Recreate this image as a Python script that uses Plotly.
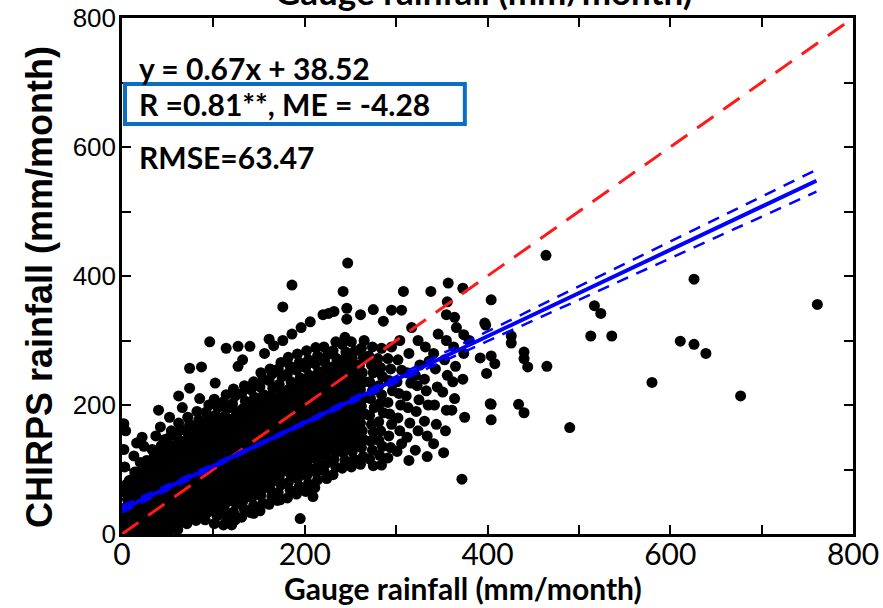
import plotly.graph_objects as go

# ---------------- data ----------------
# (gauge rainfall, CHIRPS rainfall) pairs, mm/month
cloud_pairs = [
    (2,3),(5,15),(1,28),(4,41),(6,54),(2,66),(5,77),(3,104),(2,131),(4,160),(2,171),
    (11,2),(14,14),(12,26),(15,39),(11,51),(13,63),(16,74),(12,86),(14,96),(13,121),(16,141),
    (21,4),(24,16),(22,29),(25,41),(23,53),(21,65),(24,77),(22,89),(25,100),(20,111),(24,136),(22,150),
    (31,2),(34,13),(32,25),(35,37),(33,49),(31,61),(36,73),(32,85),(34,97),(31,109),(35,120),(33,131),(37,152),(40,192),
    (41,5),(44,17),(42,30),(45,42),(43,54),(41,66),(46,78),(42,90),(44,102),(41,114),(45,126),(43,137),(46,146),(42,166),
    (51,3),(54,15),(52,28),(55,40),(53,52),(51,64),(56,76),(52,88),(54,100),(51,112),(55,124),(53,136),(50,148),(54,160),(52,181),
    (61,7),(64,19),(62,31),(65,43),(63,55),(61,67),(66,79),(62,91),(64,103),(61,115),(65,127),(63,139),(60,151),(64,162),(62,172),(66,196),(62,214),
    (71,16),(74,28),(72,40),(75,52),(73,64),(71,76),(76,88),(72,100),(74,112),(71,124),(75,136),(73,148),(70,160),(74,170),(72,181),(74,226),(74,257),
    (81,21),(84,33),(82,45),(85,57),(83,69),(81,81),(86,93),(82,105),(84,117),(81,129),(85,141),(83,153),(80,165),(84,177),(82,190),(85,210),(87,259),
    (91,22),(94,34),(92,46),(95,58),(93,70),(91,82),(96,94),(92,106),(94,118),(91,130),(95,142),(93,154),(90,166),(94,178),(92,189),(95,200),(102,234),(96,298),
    (101,16),(104,28),(102,40),(105,52),(103,64),(101,76),(106,88),(102,100),(104,112),(101,124),(105,136),(103,148),(100,160),(104,172),(102,184),(105,196),(101,209),
    (111,14),(114,26),(112,38),(115,50),(113,62),(111,74),(116,86),(112,98),(114,110),(111,122),(115,134),(113,146),(110,158),(114,170),(112,182),(115,194),(111,205),(114,216),(114,288),
    (120,14),(124,22),(122,34),(125,46),(123,58),(121,70),(126,82),(122,94),(124,106),(121,118),(125,130),(123,142),(120,154),(124,166),(122,178),(125,190),(121,202),(124,214),(122,225),(127,260),(127,291),
    (131,26),(134,38),(132,50),(135,62),(133,74),(131,86),(136,98),(132,110),(134,122),(131,134),(135,146),(133,158),(130,170),(134,182),(132,194),(135,206),(131,218),(134,230),(132,270),
    (144,32),(141,33),(144,44),(142,56),(145,68),(143,80),(141,92),(146,104),(142,116),(144,128),(141,140),(145,152),(143,164),(140,176),(144,188),(142,200),(145,212),(141,224),(144,236),(140,291),
    (151,36),(154,48),(152,60),(155,72),(153,84),(151,96),(156,108),(152,120),(154,132),(151,144),(155,156),(153,168),(150,180),(154,192),(152,204),(155,216),(151,228),(154,240),(152,250),(156,280),
    (161,46),(164,58),(162,70),(165,82),(163,94),(161,106),(166,118),(162,130),(164,142),(161,154),(165,166),(163,178),(160,190),(164,202),(162,214),(165,226),(161,238),(164,248),(162,256),(166,292),(161,302),
    (170,52),(173,53),(171,64),(174,76),(172,88),(175,100),(173,112),(171,124),(176,136),(172,148),(174,160),(171,172),(175,184),(173,196),(170,208),(174,220),(172,232),(175,244),(171,256),(174,266),(176,300),(176,352),
    (181,56),(184,68),(182,80),(185,92),(183,104),(181,116),(186,128),(182,140),(184,152),(181,164),(185,176),(183,188),(180,200),(184,212),(182,224),(185,236),(181,248),(184,260),(182,274),(186,310),(186,386),
    (195,24),(191,62),(194,74),(192,86),(195,98),(193,110),(191,122),(196,134),(192,146),(194,158),(191,170),(195,182),(193,194),(190,206),(194,218),(192,230),(195,242),(191,254),(194,266),(192,279),(196,320),
    (209,58),(201,66),(204,78),(202,90),(205,102),(203,114),(201,126),(206,138),(202,150),(204,162),(201,174),(205,186),(203,198),(200,210),(204,222),(202,234),(205,246),(201,258),(204,270),(202,284),(206,329),
    (211,72),(214,84),(212,96),(215,108),(213,120),(211,132),(216,144),(212,156),(214,168),(211,180),(215,192),(213,204),(210,216),(214,228),(212,240),(215,252),(211,264),(214,276),(212,289),(220,340),
    (224,86),(221,98),(224,110),(222,122),(225,134),(223,146),(221,158),(226,170),(222,182),(224,194),(221,206),(225,218),(223,230),(220,242),(224,254),(222,266),(225,278),(221,290),(226,342),
    (231,92),(234,104),(232,116),(235,128),(233,140),(231,152),(236,164),(232,176),(234,188),(231,200),(235,212),(233,224),(230,236),(234,248),(232,260),(235,272),(231,284),(234,298),(232,345),
    (241,102),(244,114),(242,126),(245,138),(243,150),(241,162),(246,174),(242,186),(244,198),(241,210),(245,222),(243,234),(240,246),(244,258),(242,270),(245,282),(241,294),(244,305),(242,376),(246,350),(246,333),(247,420),
    (251,104),(254,116),(252,128),(255,140),(253,152),(251,164),(256,176),(252,188),(254,200),(251,212),(255,224),(253,236),(250,248),(254,260),(252,272),(255,284),(251,298),
    (261,108),(264,120),(262,134),(265,146),(263,160),(261,172),(266,186),(262,198),(264,210),(261,224),(265,236),(263,250),(260,262),(264,274),(262,288),(265,300),(261,340),
    (275,106),(271,116),(274,130),(272,144),(275,158),(273,170),(271,184),(276,196),(272,210),(274,222),(271,236),(275,250),(273,262),(270,276),(274,290),(275,348),
    (284,107),(282,122),(281,145),(285,136),(283,160),(281,174),(286,188),(282,202),(284,216),(281,230),(285,244),(283,258),(280,272),(284,288),(286,330),
    (291,118),(294,134),(292,152),(295,170),(293,186),(291,204),(296,222),(292,238),(294,256),(291,272),(295,290),(295,347),
    (306,140),(301,128),(304,160),(302,180),(305,200),(303,218),(301,236),(306,254),(302,270),(304,300),(306,347),(308,376),
    (314,114),(312,150),(315,172),(313,196),(311,214),(316,234),(312,250),(314,280),(317,320),
    (321,130),(324,160),(322,190),(325,208),(323,230),(321,246),(326,262),(324,300),
    (334,120),(334,152),(331,175),(335,200),(333,222),(331,240),(336,268),(332,290),(338,376),
    (341,140),(344,170),(342,200),(345,228),(343,256),(341,280),(346,310),
    (352,126),(354,160),(355,192),(351,220),(356,246),(353,270),(355,300),(355,340),(357,389),(356,360),
    (361,192),(364,210),(362,236),(365,260),(363,290),(364,336),(366,320),
    (372,85),(375,181),(373,240),(374,280),(374,309),(373,381),(380,300),
]
# extra points of the densest part of the cloud, around the fitted line
core_pairs = [
    (8,8),(7,23),(8,38),(9,53),(7,68),(8,83),
    (18,6),(17,21),(19,36),(18,51),(17,66),(19,81),(18,96),
    (28,9),(27,24),(29,39),(28,54),(27,69),(29,84),(28,99),(27,114),
    (38,7),(37,22),(39,37),(38,52),(37,67),(39,82),(38,97),(37,112),(38,127),
    (48,11),(47,26),(49,41),(48,56),(47,71),(49,86),(48,101),(47,116),(48,131),
    (58,17),(57,32),(59,47),(58,62),(57,77),(59,92),(58,107),(57,122),(58,137),
    (68,24),(67,39),(69,54),(68,69),(67,84),(69,99),(68,114),(67,129),(68,144),
    (78,31),(77,46),(79,61),(78,76),(77,91),(79,106),(78,121),(77,136),(78,151),
    (88,37),(87,52),(89,67),(88,82),(87,97),(89,112),(88,127),(87,142),(88,157),
    (98,44),(97,59),(99,74),(98,89),(97,104),(99,119),(98,134),(97,149),(98,164),
    (108,51),(107,66),(109,81),(108,96),(107,111),(109,126),(108,141),(107,156),(108,171),
    (118,58),(117,73),(119,88),(118,103),(117,118),(119,133),(118,148),(117,163),(118,178),
    (128,64),(127,79),(129,94),(128,109),(127,124),(129,139),(128,154),(127,169),(128,184),
    (138,71),(137,86),(139,101),(138,116),(137,131),(139,146),(138,161),(137,176),(138,191),
    (148,78),(147,93),(149,108),(148,123),(147,138),(149,153),(148,168),(147,183),(148,198),
    (158,84),(157,99),(159,114),(158,129),(157,144),(159,159),(158,174),(157,189),(158,204),
    (168,91),(167,106),(169,121),(168,136),(167,151),(169,166),(168,181),(167,196),(168,211),
    (178,98),(177,113),(179,128),(178,143),(177,158),(179,173),(178,188),(177,203),(178,218),
    (188,104),(187,119),(189,134),(188,149),(187,164),(189,179),(188,194),(187,209),(188,224),
    (198,111),(197,126),(199,141),(198,156),(197,171),(199,186),(198,201),(197,216),(198,231),
    (208,118),(207,133),(209,148),(208,163),(207,178),(209,193),(208,208),(207,223),(208,238),
    (218,125),(217,140),(219,155),(218,170),(217,185),(219,200),(218,215),(217,230),(218,245),
    (228,131),(227,146),(229,161),(228,176),(227,191),(229,206),(228,221),(227,236),(228,251),
    (238,138),(237,153),(239,168),(238,183),(237,198),(239,213),(238,228),(237,243),(238,258),
    (248,145),(247,160),(249,175),(248,190),(247,205),(249,220),(248,235),(247,250),(248,265),
    (258,151),(257,166),(259,181),(258,196),(257,211),(259,226),(258,241),(257,256),
]
outlier_pairs = [
    (392,273),(397,327),(398,324),(399,249),(403,202),(404,177),(404,201),(404,276),
    (408,264),(404,363),(426,307),(426,296),(434,201),(440,188),(440,282),(440,272),
    (444,259),(465,260),(464,432),(490,165),(513,307),(517,354),(524,342),(536,307),
    (580,235),(611,299),(626,294),(626,395),(639,280),(677,214),(761,356),
]

# 1:1 line
one_to_one_x = [0, 800]
one_to_one_y = [0, 800]
# fitted regression y = 0.67x + 38.52
reg_x = [0, 760]
reg_y = [38.52, 547.72]
# confidence band of the fit
band_x = [0, 100, 150, 200, 300, 400, 500, 600, 700, 760]
band_upper = [43.5, 108, 141, 175, 244, 314, 384, 453.5, 523, 564.7]
band_lower = [33.5, 103, 137, 170, 235, 299, 363, 427.5, 492, 530.7]

tick_vals = [0, 100, 200, 300, 400, 500, 600, 700, 800]
tick_text = ["0", "", "200", "", "400", "", "600", "", "800"]

stats_eq = "y = 0.67x + 38.52"
stats_r = "R =0.81**, ME = -4.28"
stats_rmse = "RMSE=63.47"
x_title = "Gauge rainfall (mm/month)"
y_title = "CHIRPS rainfall (mm/month)"

all_pairs = cloud_pairs + core_pairs + outlier_pairs
gauge = [p[0] for p in all_pairs]
chirps = [p[1] for p in all_pairs]

# ---------------- figure ----------------
fig = go.Figure()
fig.add_trace(go.Scatter(x=gauge, y=chirps, mode="markers",
                         marker=dict(color="black", size=11, line=dict(width=0)),
                         showlegend=False, hoverinfo="skip"))
fig.add_trace(go.Scatter(x=one_to_one_x, y=one_to_one_y, mode="lines",
                         line=dict(color="#ff1a1a", width=3, dash="20px,12px"),
                         showlegend=False))
fig.add_trace(go.Scatter(x=band_x, y=band_upper, mode="lines",
                         line=dict(color="#0000ff", width=2.5, dash="12px,9px"),
                         showlegend=False))
fig.add_trace(go.Scatter(x=band_x, y=band_lower, mode="lines",
                         line=dict(color="#0000ff", width=2.5, dash="12px,9px"),
                         showlegend=False))
fig.add_trace(go.Scatter(x=reg_x, y=reg_y, mode="lines",
                         line=dict(color="#0000ff", width=4),
                         showlegend=False))

axis_common = dict(range=[0, 800], tickvals=tick_vals, ticktext=tick_text,
                   ticks="inside", ticklen=9, tickwidth=2, tickcolor="black",
                   showline=True, linewidth=2.5, linecolor="black", mirror="ticks",
                   showgrid=False, zeroline=False, automargin=False)

fig.update_xaxes(**axis_common, ticklabelstandoff=-8,
                 tickfont=dict(family="Lato", size=30, color="black"))
fig.update_yaxes(**axis_common, ticklabelstandoff=-2,
                 tickfont=dict(family="Liberation Sans", size=26, color="black"))

# axis titles
fig.add_annotation(text=x_title, xref="paper", yref="paper", x=0.467, y=-0.1047,
                   xanchor="center", yanchor="middle", showarrow=False,
                   font=dict(family="Lato", size=30, color="black", weight="bold"))
fig.add_annotation(text=y_title, xref="paper", yref="paper", x=-0.112, y=0.479,
                   xanchor="center", yanchor="middle", showarrow=False, textangle=-90,
                   font=dict(family="Liberation Sans", size=36, color="black", weight="bold"))
# top title, cropped by the image edge
fig.add_annotation(text=x_title, xref="paper", yref="paper", x=0.495, y=1.008,
                   xanchor="center", yanchor="bottom", showarrow=False,
                   font=dict(family="Lato", size=35, color="black", weight="bold"))

# statistics text
ann_font = dict(family="Lato", size=30, color="black", weight="bold")
fig.add_annotation(text=stats_eq, xref="paper", yref="paper", x=0.02, y=0.903,
                   xanchor="left", yanchor="middle", showarrow=False, font=ann_font)
fig.add_annotation(text=stats_r, xref="paper", yref="paper", x=0.02, y=0.833,
                   xanchor="left", yanchor="middle", showarrow=False, font=ann_font)
fig.add_annotation(text=stats_rmse, xref="paper", yref="paper", x=0.02, y=0.731,
                   xanchor="left", yanchor="middle", showarrow=False, font=ann_font)
fig.add_shape(type="rect", xref="paper", yref="paper",
              x0=0.0041, x1=0.469, y0=0.7946, y1=0.872,
              line=dict(color="#0a6fc2", width=4), fillcolor="rgba(0,0,0,0)")

fig.update_layout(width=883, height=608,
                  margin=dict(l=122, r=30, t=18, b=74),
                  paper_bgcolor="white", plot_bgcolor="white")

fig.write_html("out.html", config={"displayModeBar": False},
               post_script="document.body.style.margin='0px';"
                           "document.body.style.overflow='hidden';")
